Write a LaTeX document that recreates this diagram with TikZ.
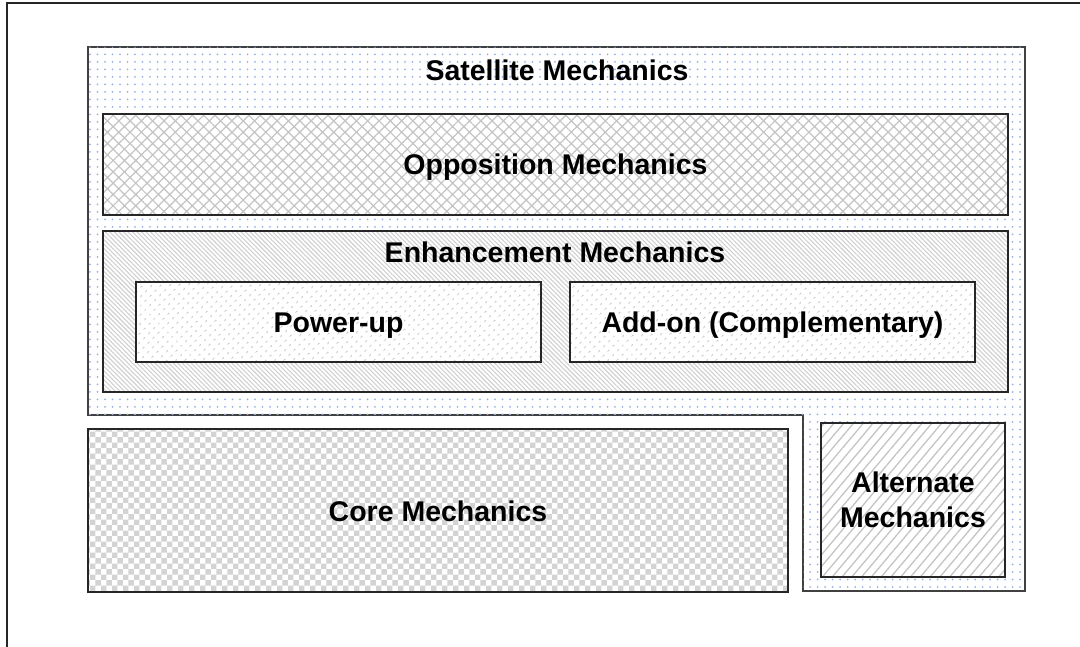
\documentclass[tikz,border=0pt]{standalone}
\usepackage{fontspec}
\setmainfont{Liberation Sans}
\usepackage{tikz}
\usetikzlibrary{patterns,patterns.meta}
\definecolor{dotblue}{RGB}{150,178,232}
\definecolor{hatchgray}{RGB}{196,196,196}
\tikzstyle{mechbox} = [rectangle, draw=black!85, line width=1.5pt, inner sep=0pt,
preaction={fill=white}, text height=21pt, text depth=0pt,
font=\bfseries\fontsize{28.5}{35}\selectfont]
\tikzstyle{title} = [inner sep=0pt, font=\bfseries\fontsize{28.5}{35}\selectfont]
\tikzstyle{satfill} = [draw=black!75, line width=2pt, fill=white,
postaction={pattern={Dots[radius=1pt, distance=7.5pt]}, pattern color=dotblue}]

\begin{document}
\begin{tikzpicture}[x=1pt, y=-1pt]
    \useasboundingbox (0,0) rectangle (1080,647);
    \draw [line width=2pt, black!85] (7,647) -- (7,3) -- (1080,3);
    % satellite area (L shape)
    \draw [satfill] (88,47) -- (1025,47) -- (1025,591) -- (803,591) -- (803,415)
        -- (88,415) -- cycle;
    \node (sat) [title] at (557,70) {Satellite Mechanics};
    \node (opp) [mechbox, minimum width=905pt, minimum height=101pt,
        pattern={Hatch[angle=45, distance=8pt, line width=1.2pt]},
        pattern color=hatchgray] at (555.5,164.5) {Opposition Mechanics};
    \node (enh) [mechbox, minimum width=905pt, minimum height=161pt,
        pattern={Lines[angle=-45, distance=3.2pt, line width=1.1pt]},
        pattern color=hatchgray!80] at (555.5,311.5) {};
    \node (enhtext) [title] at (555,252) {Enhancement Mechanics};
    \node (pow) [mechbox, minimum width=405pt, minimum height=80pt,
        pattern={Dots[radius=1pt, distance=6.5pt, angle=45]},
        pattern color=hatchgray] at (338.5,322) {Power-up};
    \node (add) [mechbox, minimum width=405pt, minimum height=80pt,
        pattern={Dots[radius=1pt, distance=6.5pt, angle=45]},
        pattern color=hatchgray] at (772.5,322) {Add-on (Complementary)};
    \node (core) [mechbox, minimum width=700pt, minimum height=163pt,
        pattern=checkerboard, pattern color=hatchgray!75] at (438,510.5) {Core Mechanics};
    \node (alt) [mechbox, minimum width=184pt, minimum height=154pt,
        align=center, text height=, text depth=,
        pattern={Lines[angle=50, distance=7.5pt, line width=1.3pt]},
        pattern color=hatchgray] at (913,500) {Alternate\\Mechanics};
\end{tikzpicture}
\end{document}
